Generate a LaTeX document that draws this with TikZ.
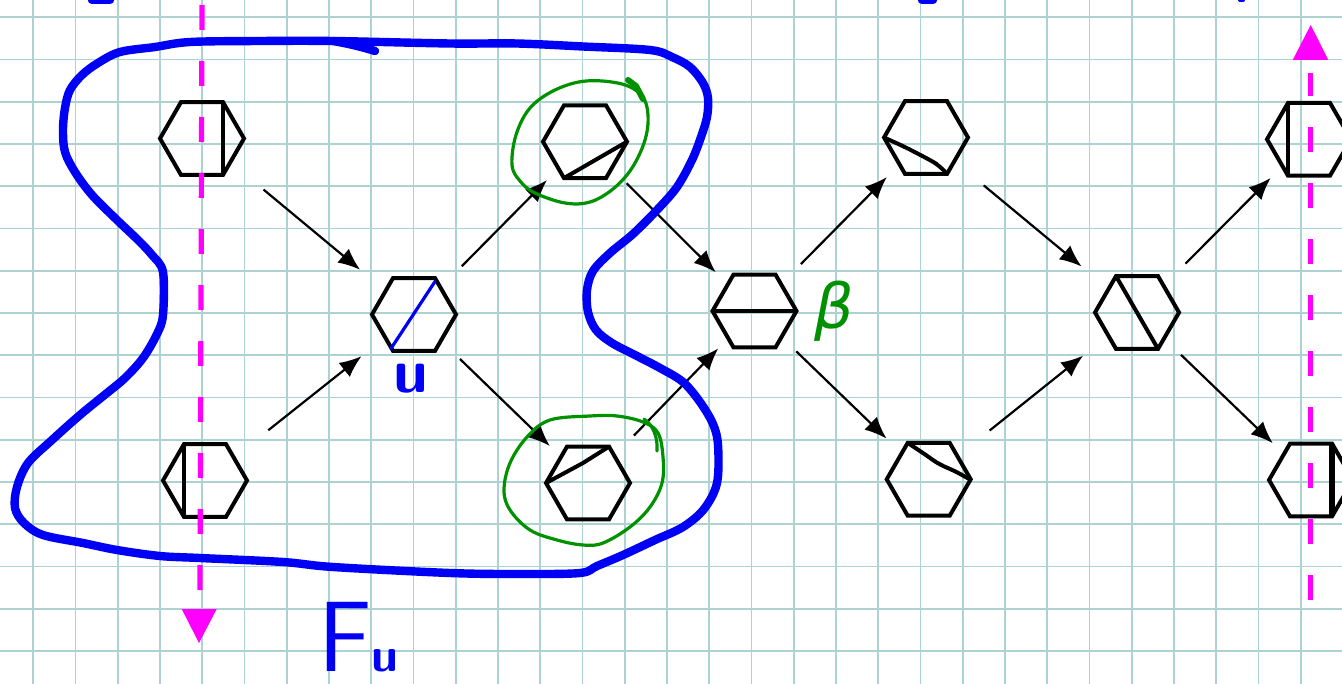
\documentclass[tikz,border=0pt]{standalone}
\usepackage{fontspec}
\newfontfamily\betafont{DejaVu Sans}
\usetikzlibrary{arrows.meta}
\definecolor{gridc}{RGB}{172,210,210}
\definecolor{penblue}{RGB}{0,0,245}
\definecolor{pengreen}{RGB}{0,145,0}
\definecolor{penmag}{RGB}{255,0,255}
\newcommand\drawhex[1]{\draw[hexline] (#1.center) +(-42,0) -- +(-21,-36.4) -- +(21,-36.4) -- +(42,0) -- +(21,36.4) -- +(-21,36.4) -- cycle;}
\begin{document}
\begin{tikzpicture}[x=0.5pt,y=-0.5pt,
  gridline/.style={gridc, line width=0.85pt},
  hexline/.style={black, line width=2pt, line join=miter},
  arr/.style={-{Latex[length=11pt,width=9pt]}, line width=1.1pt},
  region/.style={penblue, line width=4.2pt, line cap=round, line join=round},
  ring/.style={pengreen, line width=1.6pt, line cap=round},
  axisline/.style={penmag, line width=2.6pt, dash pattern=on 12.5pt off 15.5pt},
  tri/.style={fill=penmag, draw=none}]
\useasboundingbox (0,0) rectangle (1342,684);
\fill[white] (0,0) rectangle (1342,684);
\begin{scope}
\clip (0,0) rectangle (1342,684);
% grid
\foreach \k in {0,...,30} \draw[gridline] ({33.3+42.25*\k},0) -- ({33.3+42.25*\k},684);
\foreach \k in {0,...,15} \draw[gridline] (0,{17.3+42.25*\k}) -- (1342,{17.3+42.25*\k});

% hexagon centres
\coordinate (h1) at (202,138.5);
\coordinate (h2) at (205,480.5);
\coordinate (h3) at (414,314.5);
\coordinate (h4) at (585,141.7);
\coordinate (h5) at (588,483);
\coordinate (h6) at (754.5,311);
\coordinate (h7) at (926,137.5);
\coordinate (h8) at (928.7,479.3);
\coordinate (h9) at (1137,312.5);
\coordinate (h10) at (1309,139.3);
\coordinate (h11) at (1311,480);

\drawhex{h1} \drawhex{h2} \drawhex{h3} \drawhex{h4} \drawhex{h5} \drawhex{h6}
\drawhex{h7} \drawhex{h8} \drawhex{h9} \drawhex{h10} \drawhex{h11}

% chords
\draw[hexline] (h1.center) +(21,-36.4) -- +(21,36.4);
\draw[hexline] (h2.center) +(-21,-36.4) -- +(-21,36.4);
\draw[penblue, line width=1.6pt, line cap=round] (h3.center) +(21,-33) -- +(-23,34);
\draw[hexline] (h4.center) +(-21,36.4) -- +(42,0);
\draw[hexline] (h5.center) +(-42,0) -- +(-5,-20) -- +(21,-36.4);
\draw[hexline] (h6.center) +(-42,0) -- +(42,0);
\draw[hexline, rounded corners=4pt] (h7.center) +(-42,0) -- +(-21,9.5) -- +(4,22.5) -- +(14,28.5) -- +(21,36.4);
\draw[hexline, rounded corners=4pt] (h8.center) +(-21,-36.4) -- +(-5.7,-26.3) -- +(11.3,-14.3) -- +(24.3,-9.3) -- +(41,0);
\draw[hexline] (h9.center) +(-21,-36.4) -- +(21,36.4);
\draw[hexline] (h10.center) +(-21,-36.4) -- +(-21,36.4);
\draw[hexline, line width=3pt] (h11.center) +(21,-36.4) -- +(21,36.4);

% arrows
\draw[arr, shorten <=40pt, shorten >=35pt] (h1) -- (h3);
\draw[arr, shorten <=40.4pt, shorten >=33.5pt] (h2) -- (h3);
\draw[arr, shorten <=34pt, shorten >=27pt] (h3) -- (h4);
\draw[arr, shorten <=32pt, shorten >=26.5pt] (h3) -- (h5);
\draw[arr, shorten <=29.4pt, shorten >=27.4pt] (h4) -- (h6);
\draw[arr, shorten <=33pt, shorten >=26pt] (h5) -- (h6);
\draw[arr, shorten <=33pt, shorten >=27.8pt] (h6) -- (h7);
\draw[arr, shorten <=29pt, shorten >=29.3pt] (h6) -- (h8);
\draw[arr, shorten <=37.5pt, shorten >=36pt] (h7) -- (h9);
\draw[arr, shorten <=39pt, shorten >=34.5pt] (h8) -- (h9);
\draw[arr, shorten <=34.4pt, shorten >=27.2pt] (h9) -- (h10);
\draw[arr, shorten <=30.5pt, shorten >=26.5pt] (h9) -- (h11);

% green rings
\draw[ring] plot[smooth cycle, tension=0.6] coordinates {(586,81) (555,90) (530,108) (516,135) (512,165) (520,181) (535,193) (565,203) (590,202) (613,189) (632,168) (645,140) (648,115) (642,96) (622,84)};
\draw[ring, line width=3pt] (628,80) -- (636,86) -- (643,99);
\draw[ring] plot[smooth cycle, tension=0.6] coordinates {(590,416) (550,420) (527,437) (510,463) (504,490) (510,510) (530,530) (557,540) (583,545) (603,543) (630,527) (650,507) (662,483) (663,457) (658,433) (643,422) (617,416)};
\draw[ring] (644,419) .. controls (653,425) and (658,437) .. (657,451);

% blue region
\draw[region] plot[smooth cycle, tension=0.55] coordinates {
(190,42) (260,41) (333,41) (450,43.5) (517,43.5) (583,46.5) (650,50) (672,57) (690,67) (703,83) (708,98) (707,117) (701,137) (692,160) (677,187) (657,210) (633,234) (610,253) (593,271) (587,290) (588,312) (596,330) (612,343) (635,355) (660,368) (683,382) (700,402) (713,424) (718,445) (717,483) (704,509) (683,527) (655,540) (623,555) (597,566) (580,573) (520,574) (450,573) (333,567) (283,562) (200,558) (160,556) (117,550) (83,543) (43,535) (24,523) (15,508) (17,487) (28,463) (52,440) (80,415) (107,393) (125,378) (143,358) (157,334) (163,315) (163,272) (152,255) (138,240) (117,220) (92,195) (75,172) (65,152) (63,130) (65,108) (70,90) (82,75) (98,63) (120,52) (155,47)};
\draw[region] (333,41) .. controls (350,44) and (362,47) .. (375,51);
% fragments at the top edge
\draw[region] (92,0) -- (110,0);
\draw[region] (922,0) -- (933,0);
\draw[region, line width=2pt] (1240,0) -- (1243,0);

% magenta axes
\draw[axisline] (202,5) -- (200,590);
\fill[tri] (181.7,609) -- (216.7,609) -- (199,643) -- cycle;
\draw[axisline] (1310.7,600) -- (1310.7,73);
\fill[tri] (1292.7,60) -- (1328.3,60) -- (1310.7,25) -- cycle;

% labels
\node[text=penblue, inner sep=0pt, font=\sffamily\bfseries\fontsize{31}{31}\selectfont] (ulabel) at (411,379) {u};
\node[text=pengreen, inner sep=0pt, font=\betafont\itshape\fontsize{31}{31}\selectfont] (betalabel) at (834,311) {β};
\node[text=penblue, anchor=base west, inner sep=0pt] (Fulabel) at (318,671) {\sffamily\fontsize{50}{50}\selectfont F\bfseries\fontsize{24}{24}\selectfont u};
\end{scope}
\end{tikzpicture}
\end{document}
